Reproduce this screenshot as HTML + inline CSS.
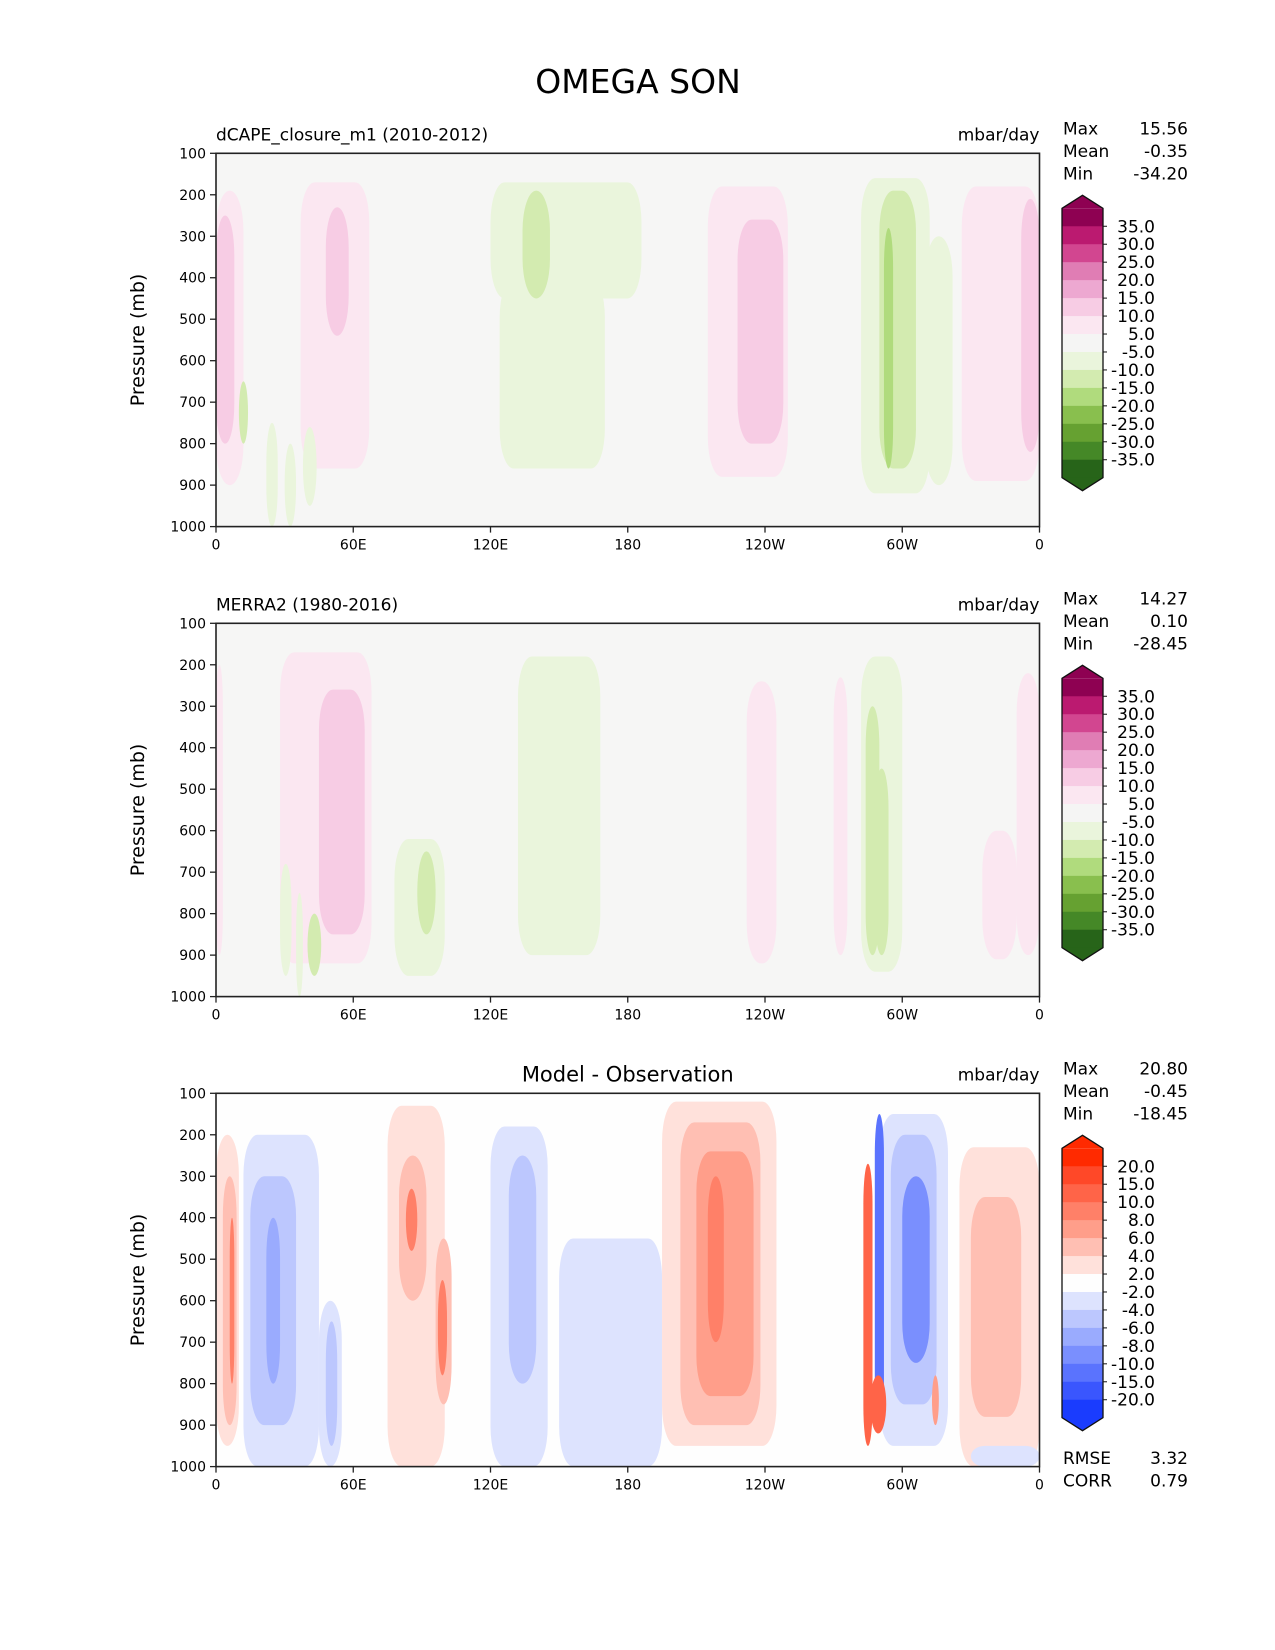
<!DOCTYPE html>
<html><head><meta charset="utf-8"><style>
html,body{margin:0;padding:0;background:#fff;}
svg{display:block;font-family:"DejaVu Sans","Liberation Sans",sans-serif;}
</style></head><body>
<svg id="fig" width="1275" height="1650" viewBox="0 0 1275 1650" xmlns="http://www.w3.org/2000/svg">
<text x="638" y="93" font-size="33" text-anchor="middle">OMEGA SON</text>
</svg>
<script>
const PX0 = 216, PX1 = 1039.5, PH = 373.3;
const panelTops = [153.3, 623.3, 1093.3];

const lonTicks = [0, 60, 120, 180, 240, 300, 360];
const lonTickLabels = ["0", "60E", "120E", "180", "120W", "60W", "0"];
const presTicks = [100, 200, 300, 400, 500, 600, 700, 800, 900, 1000];

const piygLabels = ["35.0","30.0","25.0","20.0","15.0","10.0","5.0","-5.0","-10.0","-15.0","-20.0","-25.0","-30.0","-35.0"];
const piygColors = ["#8e0152","#bb1a70","#d24690","#e07db4","#eda8d1","#f7cce4","#fbe7f1","#f5f5f4","#eaf5dc","#d3ebb0","#b0db7d","#89bf4e","#66a131","#458827","#276419"];
const diffLabels = ["20.0","15.0","10.0","8.0","6.0","4.0","2.0","-2.0","-4.0","-6.0","-8.0","-10.0","-15.0","-20.0"];
const diffColors = ["#ff2a00","#ff4828","#ff6448","#ff8068","#ff9e8a","#ffbfb3","#ffe1db","#fefefe","#dde3fe","#bcc7fe","#9aabfe","#7a8ffe","#5a73fe","#3a56fe","#1a3cfe","#0033ff"];

const statNames = ["Max","Mean","Min"];
const statsModel = ["15.56","-0.35","-34.20"];
const statsObs = ["14.27","0.10","-28.45"];
const statsDiff = ["20.80","-0.45","-18.45"];

// Panel 1 features
const m_lon0 = [0, 0, 37, 48, 120, 124, 134, 215, 228, 282, 290, 292, 310, 326, 333, 352, 22, 30, 38, 10, 145];
const m_lon1 = [12, 8, 67, 58, 186, 170, 146, 250, 248, 312, 306, 296, 322, 360, 350, 360, 27, 35, 44, 14, 160];
const m_ptop = [190, 250, 170, 230, 170, 400, 190, 180, 260, 160, 190, 280, 300, 180, 420, 210, 750, 800, 760, 650, 500];
const m_pbot = [900, 800, 860, 540, 450, 860, 450, 880, 800, 920, 860, 860, 900, 890, 840, 820, 1000, 1000, 950, 800, 820];
const m_lvl = [1, 2, 1, 2, -1, -1, -2, 1, 2, -1, -2, -3, -1, 1, 1, 2, -1, -1, -1, -2, -1];

// Panel 2 features
const o_lon0 = [0, 28, 45, 52, 78, 88, 132, 136, 232, 270, 282, 284, 288, 335, 350, 28, 35, 40];
const o_lon1 = [3, 68, 65, 58, 100, 96, 168, 150, 245, 276, 300, 290, 294, 350, 360, 33, 38, 46];
const o_ptop = [200, 170, 260, 320, 620, 650, 180, 250, 240, 230, 180, 300, 450, 600, 220, 680, 750, 800];
const o_pbot = [900, 920, 850, 800, 950, 850, 900, 500, 920, 900, 940, 900, 900, 910, 900, 950, 1000, 950];
const o_lvl = [1, 1, 2, 2, -1, -2, -1, -1, 1, 1, -1, -2, -2, 1, 1, -1, -1, -2];

// Panel 3 features
const d_lon0 = [0, 3, 6, 12, 15, 22, 45, 48, 75, 80, 83, 96, 97, 120, 128, 150, 195, 203, 210, 215, 283, 288, 290, 295, 300, 286, 325, 330, 330, 313];
const d_lon1 = [10, 9, 8, 45, 35, 28, 55, 53, 100, 92, 88, 103, 101, 145, 140, 195, 245, 238, 235, 222, 287, 292, 320, 315, 312, 293, 360, 352, 360, 316];
const d_ptop = [200, 300, 400, 200, 300, 400, 600, 650, 130, 250, 330, 450, 550, 180, 250, 450, 120, 170, 240, 300, 270, 150, 150, 200, 300, 780, 230, 350, 950, 780];
const d_pbot = [950, 900, 800, 1000, 900, 800, 1000, 950, 1000, 600, 480, 850, 780, 1000, 800, 1000, 950, 900, 830, 700, 950, 900, 950, 850, 750, 920, 1000, 880, 1000, 900];
const d_lvl = [1, 2, 4, -1, -2, -3, -1, -2, 1, 2, 4, 2, 4, -1, -2, -1, 1, 2, 3, 4, 5, -5, -1, -2, -4, 5, 1, 2, -1, 3];

const NS = "http://www.w3.org/2000/svg";
const svg = document.getElementById("fig");
function el(tag, attrs, parent) {
  const e = document.createElementNS(NS, tag);
  for (const k in attrs) e.setAttribute(k, attrs[k]);
  (parent || svg).appendChild(e);
  return e;
}
function xOf(lon) { return PX0 + lon / 360 * (PX1 - PX0); }
function yOf(p, top) { return top + (p - 100) / 900 * PH; }
function piygColor(l) { return piygColors[7 - l]; }
function diffColor(l) { return diffColors[7 - l]; }

function drawPanel(i, title, titleCentered, bg, lon0, lon1, ptop, pbot, lvl, colorFn, stats, cbColors, cbLabels) {
  const top = panelTops[i];
  const g = el("g", {});
  
  
  const clipId = "clip" + i;
  const cp = el("clipPath", {id: clipId}, g);
  el("rect", {x: PX0, y: top, width: PX1 - PX0, height: PH}, cp);
  const bgr = el("rect", {x: PX0, y: top, width: PX1 - PX0, height: PH, fill: bg}, g);
  
  
  const field = el("g", {"clip-path": "url(#" + clipId + ")"}, g);
  
  
  const idx = lvl.map((v, k) => k).sort((a, b) => Math.abs(lvl[a]) - Math.abs(lvl[b]));
  for (const k of idx) {
    const x0 = xOf(lon0[k]), x1 = xOf(lon1[k]);
    const y0 = yOf(ptop[k], top), y1 = yOf(pbot[k], top);
    const w = x1 - x0, h = y1 - y0;
    const r = el("rect", {x: x0, y: y0, width: w, height: h, rx: Math.min(w / 2, 14), ry: Math.min(h / 2, 40), fill: colorFn(lvl[k])}, field);
    
    
  }
  const frame = el("rect", {x: PX0, y: top, width: PX1 - PX0, height: PH, fill: "none", stroke: "#222", "stroke-width": 1.6}, g);
  
  
  for (const p of presTicks) {
    const y = yOf(p, top);
    el("line", {x1: PX0 - 6, x2: PX0, y1: y, y2: y, stroke: "#222", "stroke-width": 1.3}, g);
    const t = el("text", {x: PX0 - 10, y: y + 5, "font-size": 14, "text-anchor": "end"}, g);
    t.textContent = p;
    
    
  }
  lonTicks.forEach((lon, k) => {
    const x = xOf(lon);
    el("line", {x1: x, x2: x, y1: top + PH, y2: top + PH + 6, stroke: "#222", "stroke-width": 1.3}, g);
    const t = el("text", {x: x, y: top + PH + 23, "font-size": 14, "text-anchor": "middle"}, g);
    t.textContent = lonTickLabels[k];
    
    
  });
  const yl = el("text", {x: 0, y: 0, "font-size": 19, "text-anchor": "middle", transform: "translate(144," + (top + PH / 2) + ") rotate(-90)"}, g);
  yl.textContent = "Pressure (mb)";
  
  
  const tt = titleCentered
    ? el("text", {x: (PX0 + PX1) / 2, y: top - 12, "font-size": 21, "text-anchor": "middle"}, g)
    : el("text", {x: PX0, y: top - 13, "font-size": 17}, g);
  tt.textContent = title;
  
  
  const un = el("text", {x: PX1, y: top - 13, "font-size": 17, "text-anchor": "end"}, g);
  un.textContent = "mbar/day";
  
  
  statNames.forEach((n, k) => {
    const y = top - 19 + k * 22.5;
    const a = el("text", {x: 1063, y: y, "font-size": 17}, g);
    a.textContent = n;
    
    
    const b = el("text", {x: 1188, y: y, "font-size": 17, "text-anchor": "end"}, g);
    b.textContent = stats[k];
    
    
  });
  const cb = el("g", {}, g);
  
  
  const cx0 = 1062, cx1 = 1103, cbTop = top + 55, seg = 17.96;
  const n = cbLabels.length + 1;
  const cbBot = cbTop + n * seg;
  const cm = (cx0 + cx1) / 2;
  el("polygon", {points: cx0 + "," + cbTop + " " + cm + "," + (cbTop - 13) + " " + cx1 + "," + cbTop, fill: cbColors[0]}, cb);
  const lastC = cbColors[cbColors.length - 1];
  for (let k = 0; k < n; k++) {
    el("rect", {x: cx0, y: cbTop + k * seg, width: cx1 - cx0, height: seg + 0.5, fill: cbColors[k]}, cb);
  }
  el("polygon", {points: cx0 + "," + cbBot + " " + cm + "," + (cbBot + 13) + " " + cx1 + "," + cbBot, fill: lastC}, cb);
  el("polygon", {points: cx0 + "," + cbTop + " " + cm + "," + (cbTop - 13) + " " + cx1 + "," + cbTop + " " + cx1 + "," + cbBot + " " + cm + "," + (cbBot + 13) + " " + cx0 + "," + cbBot, fill: "none", stroke: "#111", "stroke-width": 1.3}, cb);
  cbLabels.forEach((l, k) => {
    const y = cbTop + (k + 1) * seg;
    el("line", {x1: cx1, x2: cx1 + 4, y1: y, y2: y, stroke: "#111"}, cb);
    const t = el("text", {x: 1155, y: y + 6, "font-size": 17, "text-anchor": "end"}, cb);
    t.textContent = l;
    
    
  });
}

drawPanel(0, "dCAPE_closure_m1 (2010-2012)", false, "#f6f6f5", m_lon0, m_lon1, m_ptop, m_pbot, m_lvl, piygColor, statsModel, piygColors, piygLabels);
drawPanel(1, "MERRA2 (1980-2016)", false, "#f6f6f5", o_lon0, o_lon1, o_ptop, o_pbot, o_lvl, piygColor, statsObs, piygColors, piygLabels);
drawPanel(2, "Model - Observation", true, "#fefefe", d_lon0, d_lon1, d_ptop, d_pbot, d_lvl, diffColor, statsDiff, diffColors.slice(0, 15), diffLabels);

const errNames = ["RMSE", "CORR"];
const errVals = ["3.32", "0.79"];
errNames.forEach((n, k) => {
  const y = 1464 + k * 22.5;
  const a = el("text", {x: 1063, y: y, "font-size": 17});
  a.textContent = n;
  
  
  const b = el("text", {x: 1188, y: y, "font-size": 17, "text-anchor": "end"});
  b.textContent = errVals[k];
  
  
});
</script>
</body></html>
